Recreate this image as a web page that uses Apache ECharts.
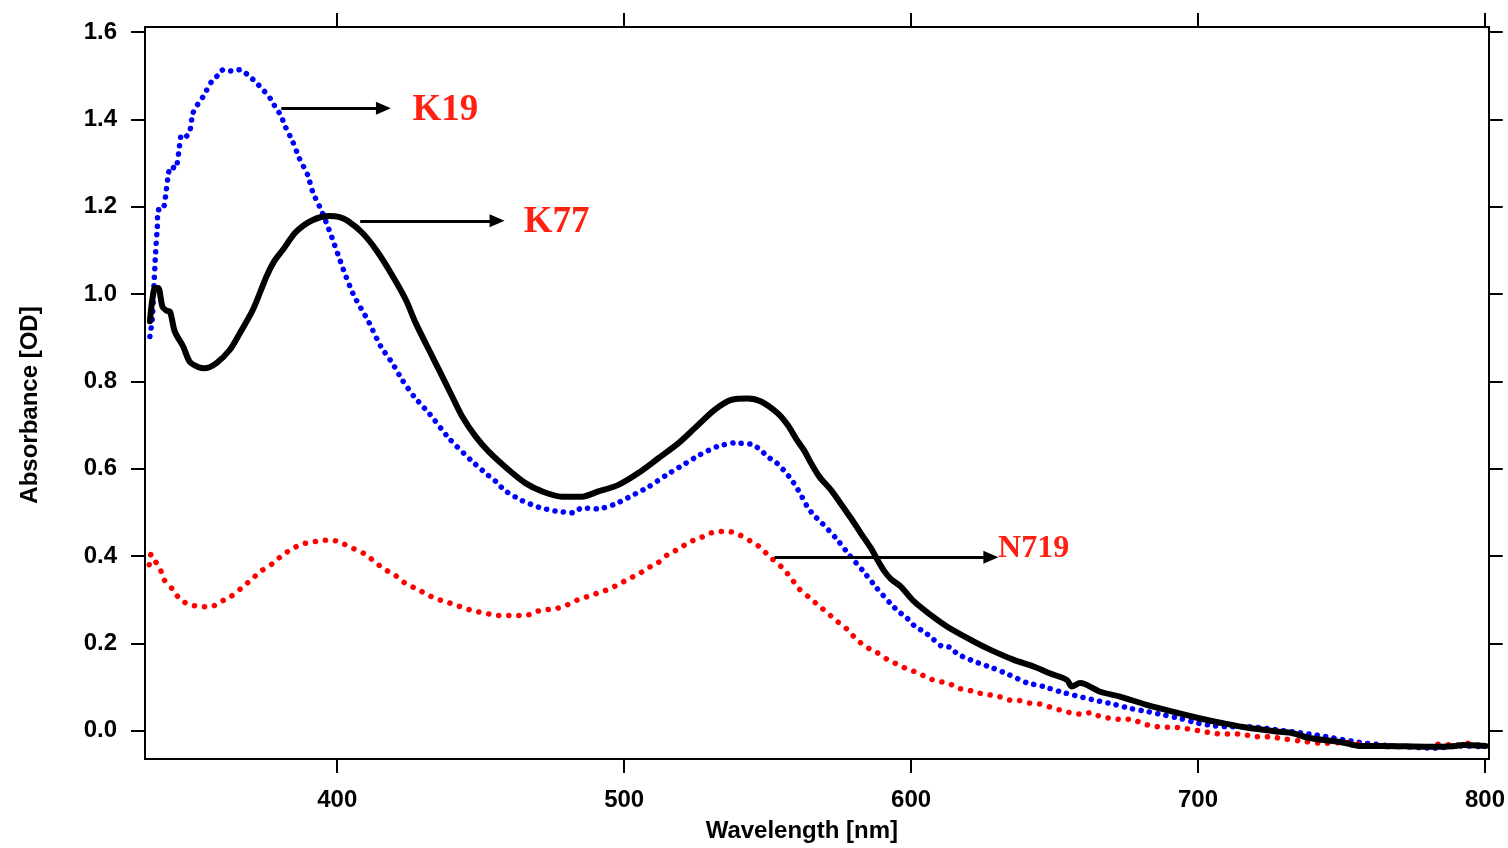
<!DOCTYPE html>
<html>
<head>
<meta charset="utf-8">
<script src="https://cdn.jsdelivr.net/npm/echarts@6/dist/echarts.min.js"></script>
<style>
  html, body { margin: 0; padding: 0; background: #ffffff; }
  #chart { width: 1508px; height: 848px; }
</style>
</head>
<body>
<div id="chart"></div>
<script>
// Absorption spectra of three dyes: wavelength (nm) and absorbance (OD)
const k19Nm = [334.7, 335.5, 336.1, 336.7, 337.3, 337.6, 339.3, 340.3, 341.1, 341.9, 343.7, 344.8, 345.7, 347.2, 348.6, 349.6, 351.0, 353.1, 356.2, 358.5, 360.2, 363.3, 366.0, 368.9, 372.0, 374.7, 376.8, 378.5, 380.5, 381.6, 384.5, 386.8, 389.7, 391.5, 394.4, 397.8, 402.1, 405.7, 410.6, 415.2, 419.2, 422.7, 426.8, 432.0, 438.9, 446.5, 452.4, 455.4, 458.4, 464.4, 470.2, 476.0, 482.1, 485.2, 491.0, 496.8, 502.6, 508.4, 514.8, 520.6, 526.4, 532.5, 538.4, 544.3, 547.2, 550.1, 553.2, 556.1, 558.4, 561.2, 563.9, 566.3, 568.4, 573.8, 578.5, 583.1, 588.1, 592.7, 595.6, 598.7, 601.6, 604.5, 607.6, 610.5, 613.5, 616.3, 622.2, 628.2, 634.2, 640.2, 646.2, 652.0, 658.6, 664.5, 670.3, 676.3, 682.1, 687.9, 693.7, 700.0, 705.8, 710.0, 717.4, 729.6, 741.1, 756.2, 767.8, 782.2, 792.1, 799.8];
const k19Od = [0.903, 0.941, 1.017, 1.097, 1.155, 1.193, 1.194, 1.231, 1.273, 1.292, 1.288, 1.327, 1.365, 1.361, 1.372, 1.413, 1.431, 1.451, 1.487, 1.502, 1.514, 1.511, 1.514, 1.502, 1.483, 1.464, 1.447, 1.428, 1.408, 1.388, 1.349, 1.311, 1.273, 1.233, 1.193, 1.136, 1.057, 0.998, 0.941, 0.880, 0.842, 0.803, 0.765, 0.727, 0.670, 0.620, 0.586, 0.570, 0.550, 0.527, 0.512, 0.503, 0.499, 0.510, 0.508, 0.519, 0.538, 0.558, 0.586, 0.609, 0.632, 0.651, 0.659, 0.656, 0.645, 0.627, 0.613, 0.593, 0.574, 0.545, 0.512, 0.492, 0.479, 0.441, 0.402, 0.367, 0.326, 0.292, 0.273, 0.257, 0.237, 0.227, 0.210, 0.194, 0.191, 0.175, 0.158, 0.144, 0.128, 0.110, 0.101, 0.089, 0.078, 0.069, 0.061, 0.051, 0.044, 0.036, 0.028, 0.017, 0.011, 0.009, 0.009, 0.000, -0.010, -0.027, -0.035, -0.040, -0.035, -0.037];

const k77Nm = [334.7, 335.6, 336.5, 337.6, 339.1, 340.5, 341.7, 343.4, 346.3, 348.6, 351.5, 353.8, 357.9, 362.5, 366.0, 370.6, 375.3, 378.0, 381.0, 385.7, 391.5, 397.3, 400.5, 403.6, 408.8, 414.0, 419.8, 423.9, 427.4, 432.0, 435.5, 439.5, 443.6, 448.2, 452.8, 459.8, 465.6, 471.4, 478.3, 485.2, 491.0, 498.0, 504.9, 511.9, 518.8, 524.6, 531.5, 537.3, 543.1, 547.7, 553.5, 557.0, 560.0, 562.8, 565.1, 568.0, 572.1, 575.5, 579.0, 582.5, 586.0, 588.3, 590.6, 593.0, 596.4, 601.0, 606.8, 612.6, 621.9, 627.7, 635.8, 642.7, 648.5, 654.3, 656.0, 658.9, 665.9, 672.8, 682.1, 689.0, 700.0, 708.7, 716.8, 727.2, 733.0, 738.8, 750.4, 756.2, 764.3, 780.5, 789.8, 792.1, 800.2];
const k77Od = [0.938, 0.990, 1.014, 1.014, 0.971, 0.962, 0.960, 0.914, 0.880, 0.845, 0.833, 0.830, 0.842, 0.872, 0.910, 0.964, 1.040, 1.075, 1.101, 1.143, 1.170, 1.179, 1.177, 1.168, 1.140, 1.097, 1.036, 0.987, 0.933, 0.872, 0.826, 0.773, 0.719, 0.674, 0.639, 0.597, 0.567, 0.548, 0.536, 0.536, 0.548, 0.563, 0.590, 0.624, 0.658, 0.693, 0.735, 0.758, 0.761, 0.754, 0.727, 0.700, 0.668, 0.641, 0.613, 0.582, 0.551, 0.520, 0.487, 0.452, 0.418, 0.391, 0.366, 0.347, 0.330, 0.296, 0.265, 0.238, 0.204, 0.185, 0.162, 0.147, 0.131, 0.116, 0.101, 0.109, 0.089, 0.078, 0.059, 0.047, 0.029, 0.017, 0.007, -0.002, -0.006, -0.017, -0.027, -0.035, -0.035, -0.037, -0.035, -0.033, -0.035];

const n719Nm = [334.5, 335.1, 336.1, 338.3, 339.5, 342.6, 345.4, 349.0, 352.5, 356.1, 359.6, 363.1, 366.7, 370.2, 373.8, 377.3, 380.9, 384.4, 387.9, 391.5, 395.0, 398.6, 402.1, 405.7, 409.2, 412.7, 416.3, 419.8, 423.4, 426.9, 430.5, 434.0, 437.5, 441.1, 444.6, 448.2, 451.7, 455.3, 458.8, 462.3, 465.9, 469.4, 473.0, 476.5, 480.1, 483.6, 487.1, 490.7, 494.2, 497.8, 501.3, 504.9, 508.4, 511.9, 515.5, 519.0, 522.6, 526.1, 529.7, 533.2, 536.8, 540.3, 543.8, 547.4, 550.9, 555.0, 558.0, 560.8, 564.3, 567.7, 571.1, 574.5, 577.9, 580.8, 584.5, 588.1, 591.5, 595.2, 598.7, 602.2, 605.7, 609.4, 612.9, 616.4, 619.9, 623.6, 627.1, 630.6, 634.2, 637.7, 641.3, 644.8, 648.4, 652.0, 655.4, 658.9, 662.6, 666.1, 669.6, 673.0, 676.9, 680.3, 683.8, 687.3, 690.8, 694.2, 698.3, 701.8, 705.2, 708.7, 712.2, 715.7, 719.1, 722.6, 726.1, 730.0, 737.0, 744.0, 751.3, 758.5, 765.5, 772.4, 779.9, 783.4, 790.3, 793.8, 797.6, 800.0];
const n719Od = [0.380, 0.404, 0.393, 0.370, 0.347, 0.324, 0.299, 0.288, 0.284, 0.284, 0.296, 0.308, 0.327, 0.347, 0.367, 0.382, 0.402, 0.417, 0.428, 0.432, 0.436, 0.436, 0.428, 0.417, 0.406, 0.389, 0.370, 0.358, 0.339, 0.327, 0.315, 0.303, 0.296, 0.288, 0.280, 0.273, 0.269, 0.264, 0.264, 0.264, 0.264, 0.273, 0.277, 0.280, 0.288, 0.299, 0.307, 0.315, 0.323, 0.334, 0.347, 0.358, 0.373, 0.385, 0.405, 0.416, 0.432, 0.440, 0.452, 0.456, 0.456, 0.448, 0.435, 0.420, 0.397, 0.374, 0.351, 0.326, 0.306, 0.287, 0.268, 0.249, 0.231, 0.210, 0.191, 0.179, 0.164, 0.152, 0.141, 0.133, 0.121, 0.113, 0.109, 0.097, 0.093, 0.086, 0.082, 0.078, 0.070, 0.069, 0.063, 0.061, 0.054, 0.047, 0.041, 0.038, 0.041, 0.032, 0.028, 0.026, 0.026, 0.017, 0.011, 0.008, 0.008, 0.006, 0.002, -0.002, -0.006, -0.008, -0.008, -0.008, -0.014, -0.014, -0.015, -0.019, -0.025, -0.029, -0.027, -0.033, -0.037, -0.037, -0.037, -0.031, -0.033, -0.029, -0.033, -0.032];

// Axis ranges and tick values
const xRange = [333, 801.3];
const yRange = [-0.065, 1.612];
const xTicks = [400, 500, 600, 700, 800];
const yTicks = [0, 0.2, 0.4, 0.6, 0.8, 1.0, 1.2, 1.4, 1.6];

// Callout arrows (tail, head) and their dye names, in data units
const calloutNames = ['K19', 'K77', 'N719'];
const calloutTail = [[380.5, 1.426], [408.0, 1.168], [552.4, 0.397]];
const calloutHead = [[416.1, 1.426], [455.7, 1.168], [627.8, 0.397]];
const calloutText = [[426.2, 1.421], [465.0, 1.165], [630.3, 0.4174]];

const zip = (xs, ys) => xs.map((x, i) => [x, ys[i]]);

const sansBold = { fontFamily: '"Liberation Sans", Arial, sans-serif', fontWeight: 'bold', color: '#000', fontSize: 24 };
const labelRed = '#ff2012';

function callout(i, size) {
  return {
    markLine: {
      silent: true,
      animation: false,
      symbol: ['none', 'triangle'],
      symbolSize: [13, 15],
      lineStyle: { color: '#000', width: 3, type: 'solid' },
      label: { show: false },
      emphasis: { disabled: true },
      data: [[{ coord: calloutTail[i] }, { coord: calloutHead[i] }]]
    },
    markPoint: {
      silent: true,
      animation: false,
      symbol: 'circle',
      symbolSize: 0,
      data: [{
        coord: calloutText[i],
        label: {
          show: true,
          position: 'right',
          distance: 0,
          formatter: calloutNames[i],
          color: labelRed,
          fontFamily: '"Liberation Serif", "Times New Roman", serif',
          fontWeight: 'bold',
          fontSize: size
        }
      }]
    }
  };
}

function valueAxis(range, ticks, position, labelMargin, extra) {
  return Object.assign({
    type: 'value',
    min: range[0],
    max: range[1],
    position: position,
    axisLine: { show: true, onZero: false, lineStyle: { color: '#000', width: 2 } },
    axisTick: { show: true, inside: false, length: 14, customValues: ticks, lineStyle: { color: '#000', width: 2 } },
    axisLabel: Object.assign({ show: labelMargin != null, margin: labelMargin || 8, customValues: ticks }, sansBold),
    splitLine: { show: false }
  }, extra || {});
}

const chart = echarts.init(document.getElementById('chart'), null, { renderer: 'canvas' });

chart.setOption({
  animation: false,
  backgroundColor: '#ffffff',
  grid: { left: 145, right: 15, top: 27, bottom: 89 },
  xAxis: [
    valueAxis(xRange, xTicks, 'bottom', 29, {
      name: 'Wavelength [nm]',
      nameLocation: 'middle',
      nameGap: 60,
      nameTextStyle: Object.assign({ padding: [0, 30, 0, 0] }, sansBold)
    }),
    valueAxis(xRange, xTicks, 'top', null)
  ],
  yAxis: [
    valueAxis(yRange, yTicks, 'left', 28, {
      name: 'Absorbance [OD]',
      nameLocation: 'middle',
      nameGap: 103,
      nameTextStyle: Object.assign({ padding: [0, 24, 0, 0] }, sansBold)
    }),
    valueAxis(yRange, yTicks, 'right', null)
  ],
  series: [
    Object.assign({
      name: 'K19',
      type: 'line',
      data: zip(k19Nm, k19Od),
      showSymbol: false,
      symbol: 'none',
      smooth: 0.2,
      lineStyle: { color: '#0000ff', width: 5.5, type: [0.1, 8.4], cap: 'round', join: 'round' },
      z: 2
    }, callout(0, 37)),
    Object.assign({
      name: 'N719',
      type: 'line',
      data: zip(n719Nm, n719Od),
      showSymbol: false,
      symbol: 'none',
      smooth: 0.2,
      lineStyle: { color: '#ff0000', width: 5.5, type: [0.1, 10], cap: 'round', join: 'round' },
      z: 2
    }, callout(2, 32)),
    Object.assign({
      name: 'K77',
      type: 'line',
      data: zip(k77Nm, k77Od),
      showSymbol: false,
      symbol: 'none',
      smooth: 0.3,
      lineStyle: { color: '#000000', width: 6, type: 'solid', cap: 'round', join: 'round' },
      z: 3
    }, callout(1, 37))
  ]
});

// One-decimal labels on the absorbance axis
chart.setOption({
  yAxis: [{ axisLabel: { formatter: v => v.toFixed(1) } }, {}]
});
</script>
</body>
</html>
